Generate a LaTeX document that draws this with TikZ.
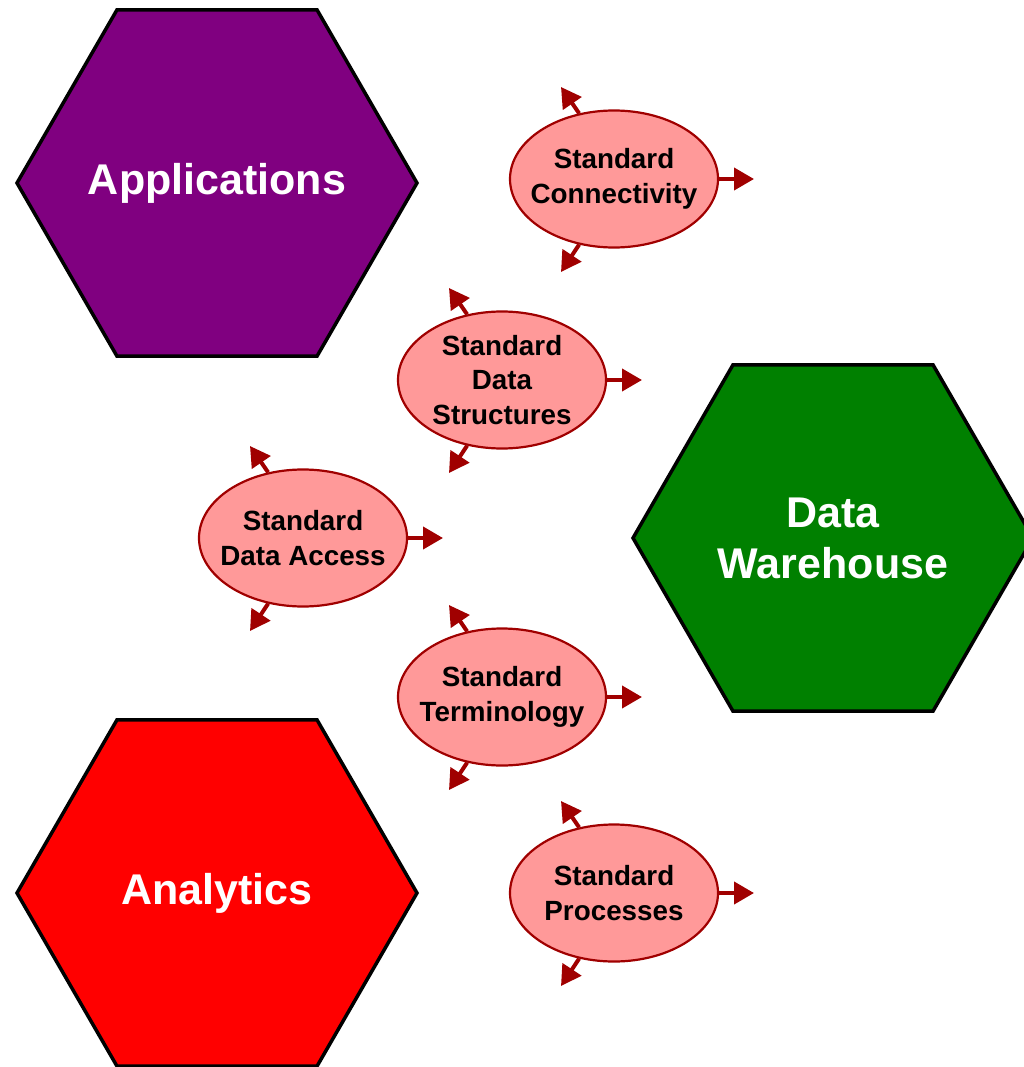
\documentclass[tikz,border=0pt]{standalone}
\usepackage{fontspec}
\setmainfont{Liberation Sans}
\usetikzlibrary{shapes.geometric,arrows.meta,calc}
\definecolor{darkr}{RGB}{160,0,0}
\definecolor{pinkfill}{RGB}{255,153,153}
\definecolor{hexpurple}{RGB}{128,0,128}
\definecolor{hexgreen}{RGB}{0,128,0}
\definecolor{hexred}{RGB}{255,0,0}
\begin{document}
\begin{tikzpicture}[x=1pt,y=-1pt,
  hexbox/.style={regular polygon, regular polygon sides=6, minimum size=400pt, inner sep=-60pt,
    draw=black, line width=3.5pt, text=white, align=center,
    font=\fontsize{43}{51}\selectfont\bfseries},
  stdbox/.style={ellipse, minimum width=208pt, minimum height=137pt, inner sep=-12pt,
    draw=darkr, line width=2.2pt, fill=pinkfill, align=center, text=black,
    font=\fontsize{27.8}{34.5}\selectfont\bfseries},
  outarrow/.style={draw=darkr, line width=4pt, -{Triangle[length=20pt,width=22pt]}, darkr}
]
\useasboundingbox (0,0) rectangle (1024,1067);
\clip (0,0) rectangle (1024,1067);

\node[hexbox, fill=hexpurple] (app) at (217,183) {Applications};
\node[hexbox, fill=hexgreen] (dw) at (833,538) {Data\\Warehouse};
\node[hexbox, fill=hexred] (ana) at (217,893) {Analytics};

\foreach \n/\cx/\cy/\txt in {
  conn/614/179/{Standard\\Connectivity},
  struct/502/380/{Standard\\Data\\Structures},
  access/303/538/{Standard\\Data Access},
  term/502/697/{Standard\\Terminology},
  proc/614/893/{Standard\\Processes}} {
  \node[stdbox] (\n) at (\cx,\cy) {\txt};
  \coordinate (\n-t) at ($(\n.center)+(-53pt,92pt)$);
  \coordinate (\n-b) at ($(\n.center)+(-53pt,-93pt)$);
  \coordinate (\n-r) at ($(\n.center)+(140pt,0pt)$);
  \draw[outarrow] (\n.118) -- (\n-t);
  \draw[outarrow] (\n.242) -- (\n-b);
  \draw[outarrow] (\n.east) -- (\n-r);
}
\end{tikzpicture}
\end{document}
